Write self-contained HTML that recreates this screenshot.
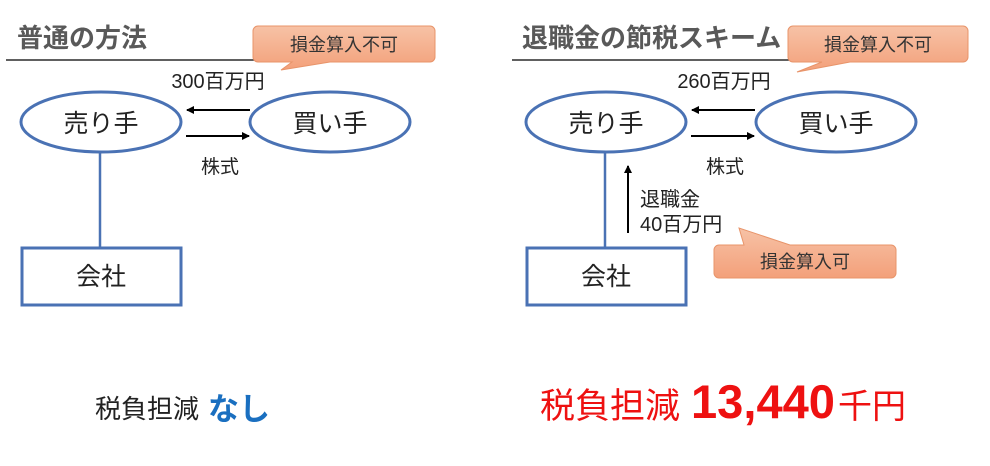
<!DOCTYPE html>
<html><head><meta charset="utf-8"><style>
body{margin:0;background:#fff;}
svg{display:block;font-family:"Liberation Sans","Noto Sans CJK JP",sans-serif;}
</style></head><body>
<svg width="990" height="466" viewBox="0 0 990 466">
<defs>
<linearGradient id="g" x1="0" y1="0" x2="0" y2="1">
<stop offset="0" stop-color="#f7c2a6"/><stop offset="1" stop-color="#f3a07a"/></linearGradient>
<marker id="a" markerWidth="8" markerHeight="8" refX="7" refY="4" orient="auto" markerUnits="userSpaceOnUse"><path d="M0,0 L8,4 L0,8z" fill="#000"/></marker>
</defs>
<!-- left -->
<text x="17" y="47" font-size="26" font-weight="bold" fill="#595959">普通の方法</text>
<line x1="6" y1="60" x2="280" y2="60" stroke="#000" stroke-width="1.2"/>
<path d="M258,26 H430 a5,5 0 0 1 5,5 V57 a5,5 0 0 1 -5,5 H330 L281,70 L292,62 H258 a5,5 0 0 1 -5,-5 V31 a5,5 0 0 1 5,-5z" fill="url(#g)" stroke="#e8946a"/>
<text x="344" y="51" font-size="18" text-anchor="middle" fill="#333">損金算入不可</text>
<text x="218" y="88" font-size="20" text-anchor="middle" fill="#222">300百万円</text>
<ellipse cx="101" cy="122" rx="80" ry="30" fill="#fff" stroke="#4a72b4" stroke-width="3"/>
<ellipse cx="330" cy="122" rx="80" ry="30" fill="#fff" stroke="#4a72b4" stroke-width="3"/>
<text x="101" y="132" font-size="25" text-anchor="middle" fill="#222">売り手</text>
<text x="330" y="132" font-size="25" text-anchor="middle" fill="#222">買い手</text>
<line x1="250" y1="110" x2="187" y2="110" stroke="#000" stroke-width="2" marker-end="url(#a)"/>
<line x1="186" y1="136" x2="249" y2="136" stroke="#000" stroke-width="2" marker-end="url(#a)"/>
<text x="220" y="173" font-size="19" text-anchor="middle" fill="#222">株式</text>
<line x1="100" y1="152" x2="100" y2="248" stroke="#4a72b4" stroke-width="2.5"/>
<rect x="22" y="248" width="159" height="57" fill="#fff" stroke="#4a72b4" stroke-width="3"/>
<text x="101" y="285" font-size="25" text-anchor="middle" fill="#222">会社</text>
<text x="95" y="418" font-size="26" fill="#222">税負担減</text>
<text x="208" y="420" font-size="31" font-weight="bold" fill="#1a6fc0">なし</text>
<!-- right -->
<text x="522" y="47" font-size="26" font-weight="bold" fill="#595959">退職金の節税スキーム</text>
<line x1="512" y1="60" x2="800" y2="60" stroke="#000" stroke-width="1.2"/>
<path d="M793,26 H963 a5,5 0 0 1 5,5 V57 a5,5 0 0 1 -5,5 H850 L797,72 L822,62 H793 a5,5 0 0 1 -5,-5 V31 a5,5 0 0 1 5,-5z" fill="url(#g)" stroke="#e8946a"/>
<text x="878" y="51" font-size="18" text-anchor="middle" fill="#333">損金算入不可</text>
<text x="724" y="88" font-size="20" text-anchor="middle" fill="#222">260百万円</text>
<ellipse cx="606" cy="122" rx="80" ry="30" fill="#fff" stroke="#4a72b4" stroke-width="3"/>
<ellipse cx="836" cy="122" rx="80" ry="30" fill="#fff" stroke="#4a72b4" stroke-width="3"/>
<text x="606" y="132" font-size="25" text-anchor="middle" fill="#222">売り手</text>
<text x="836" y="132" font-size="25" text-anchor="middle" fill="#222">買い手</text>
<line x1="755" y1="110" x2="692" y2="110" stroke="#000" stroke-width="2" marker-end="url(#a)"/>
<line x1="691" y1="136" x2="754" y2="136" stroke="#000" stroke-width="2" marker-end="url(#a)"/>
<text x="725" y="173" font-size="19" text-anchor="middle" fill="#222">株式</text>
<line x1="605" y1="152" x2="605" y2="248" stroke="#4a72b4" stroke-width="2.5"/>
<line x1="628" y1="233" x2="628" y2="166" stroke="#000" stroke-width="2" marker-end="url(#a)"/>
<text x="640" y="206" font-size="20" fill="#222">退職金</text>
<text x="640" y="231" font-size="20" fill="#222">40百万円</text>
<rect x="527" y="248" width="159" height="57" fill="#fff" stroke="#4a72b4" stroke-width="3"/>
<text x="606" y="285" font-size="25" text-anchor="middle" fill="#222">会社</text>
<path d="M719,245 H744 L739,228 L790,245 H891 a5,5 0 0 1 5,5 V273 a5,5 0 0 1 -5,5 H719 a5,5 0 0 1 -5,-5 V250 a5,5 0 0 1 5,-5z" fill="url(#g)" stroke="#e8946a"/>
<text x="805" y="268" font-size="18" text-anchor="middle" fill="#333">損金算入可</text>
<text x="540" y="418" font-size="35" fill="#ee1111">税負担減</text>
<text x="691" y="418" font-size="47" font-weight="bold" fill="#ee1111" textLength="144" lengthAdjust="spacingAndGlyphs">13,440</text>
<text x="838" y="418" font-size="34" fill="#ee1111">千円</text>
</svg>
</body></html>
